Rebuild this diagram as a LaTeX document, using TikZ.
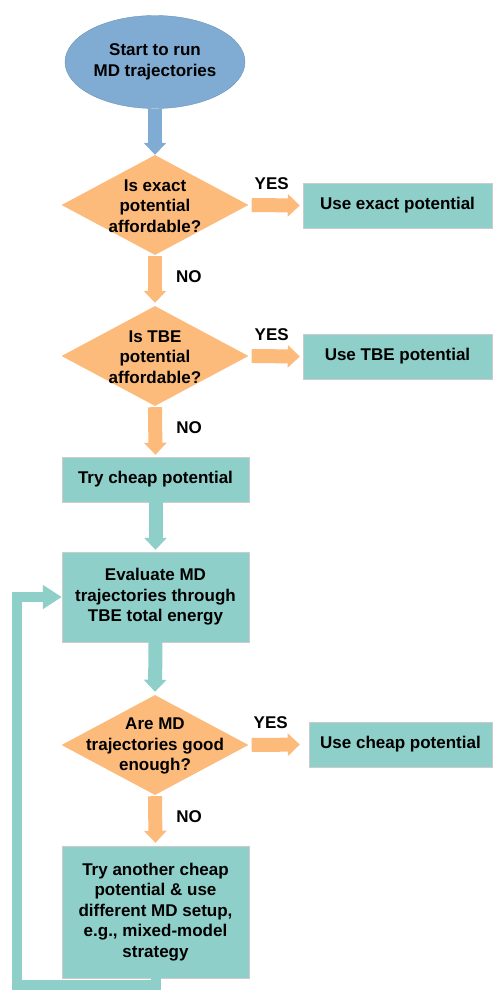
\documentclass[tikz,border=0pt]{standalone}
\usepackage{fontspec}
\setmainfont{Liberation Sans}
\definecolor{startblue}{HTML}{80ACD4}
\definecolor{askorange}{HTML}{FDBB7B}
\definecolor{stepteal}{HTML}{8ECFC9}
\usetikzlibrary{arrows.meta, shapes.geometric, positioning, calc}

\begin{document}
\begin{tikzpicture}[x=1pt, y=-1pt,
    txt/.style={font=\fontsize{17}{20.5}\selectfont\bfseries, align=center, inner sep=0pt},
    startnode/.style={ellipse, fill=startblue, draw=startblue!85!black, minimum width=180, minimum height=93, txt},
    decision/.style={diamond, fill=askorange, minimum width=187, minimum height=100, inner sep=0pt},
    stepbox/.style={rectangle, fill=stepteal, draw=gray!40, minimum width=187, minimum height=45, txt},
    fat/.style={draw=#1, line width=14pt, -{Triangle[width=22pt, length=12pt, fill=#1]}},
    loopback/.style={draw=stepteal, line width=10pt, line join=miter, -{Triangle[width=23pt, length=19pt, fill=stepteal]}}]
  \useasboundingbox (0,0) rectangle (493,993);
  % Start
  \node[startnode] (start) at (155,62) {Start to run\\MD trajectories};
  % First question
  \node[decision] (d1) at (155,205) {};
  \node[txt] (d1t) at (155,206) {Is exact\\potential\\affordable?};
  \node[stepbox, minimum width=189] (exact) at (397.5,205.5) {Use exact potential};
  % Second question
  \node[decision] (d2) at (155,356) {};
  \node[txt] (d2t) at (155,357) {Is TBE\\potential\\affordable?};
  \node[stepbox, minimum width=189] (tbe) at (397.5,356.5) {Use TBE potential};
  % Cheap potential
  \node[stepbox] (cheap) at (155.5,479.5) {Try cheap potential};
  \node[stepbox, minimum height=90] (eval) at (155.5,597) {Evaluate MD\\trajectories through\\TBE total energy};
  % Third question
  \node[decision] (d3) at (155,745) {};
  \node[txt] (d3t) at (155,746) {Are MD\\trajectories good\\enough?};
  \node[stepbox, minimum width=183] (good) at (400.5,744.5) {Use cheap potential};
  \node[stepbox, minimum height=132] (other) at (155.5,912) {Try another cheap\\potential \& use\\different MD setup,\\e.g., mixed-model\\strategy};
  % Block arrows
  \draw[fat=startblue] (start.south) -- (d1.north);
  \draw[fat=askorange, shorten <=3pt, shorten >=3pt] (d1.east) -- (exact.west)
    node[txt, midway, above=9pt, xshift=-4pt] (yes1) {YES};
  \draw[fat=askorange, shorten <=1pt, shorten >=3pt] (d1.south) -- (d2.north)
    node[txt, midway, right=14pt, yshift=4pt] (no1) {NO};
  \draw[fat=askorange, shorten <=3pt, shorten >=3pt] (d2.east) -- (tbe.west)
    node[txt, midway, above=9pt, xshift=-4pt] (yes2) {YES};
  \draw[fat=askorange, shorten <=1pt, shorten >=2pt] (d2.south) -- (cheap.north)
    node[txt, midway, right=14pt, yshift=4pt] (no2) {NO};
  \draw[fat=stepteal, shorten >=2pt] (cheap.south) -- (eval.north);
  \draw[fat=stepteal, shorten >=3pt] (eval.south) -- (d3.north);
  \draw[fat=askorange, shorten <=3pt, shorten >=9pt] (d3.east) -- (good.west)
    node[txt, midway, above=9pt, xshift=-8pt] (yes3) {YES};
  \draw[fat=askorange, shorten <=1pt, shorten >=3pt] (d3.south) -- (other.north)
    node[txt, midway, right=14pt, yshift=4pt] (no3) {NO};
  % Loop back
  \draw[loopback] (other.south) -- ++(0,7) -| ($(eval.west)+(-45,0)$) -- (eval.west);
\end{tikzpicture}
\end{document}
